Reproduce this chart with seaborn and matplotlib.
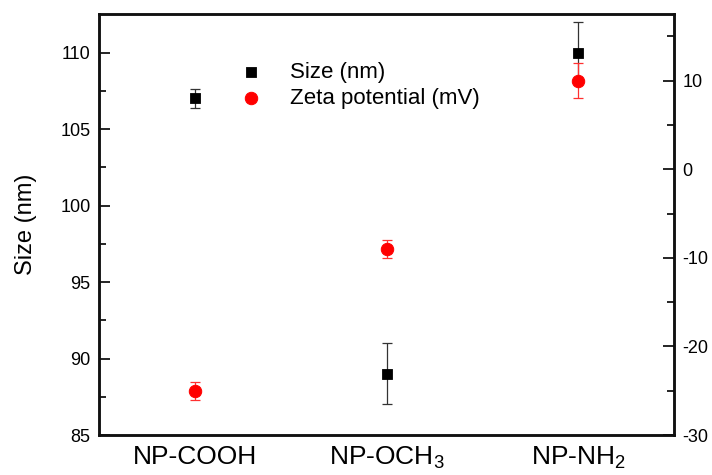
import numpy as np
import pandas as pd
import seaborn as sns
import matplotlib.pyplot as plt

categories = ["NP-COOH", "NP-OCH$_3$", "NP-NH$_2$"]
size_nm = [107.0, 89.0, 110.0]
size_err = [0.6, 2.0, 2.0]
zeta_mv = [-25.0, -9.0, 10.0]
zeta_err = [1.0, 1.0, 2.0]

sns.set_style("white")
plt.rcParams["font.family"] = ["Liberation Sans", "DejaVu Sans"]
plt.rcParams["mathtext.default"] = "regular"
plt.rcParams["axes.unicode_minus"] = False
plt.rcParams["text.color"] = "black"
plt.rcParams["axes.labelcolor"] = "black"
plt.rcParams["xtick.color"] = "black"
plt.rcParams["ytick.color"] = "black"

df = pd.DataFrame({"pos": np.arange(len(categories)), "size": size_nm,
                   "size_err": size_err, "zeta": zeta_mv, "zeta_err": zeta_err})

fig = plt.figure(figsize=(7.12, 4.75), dpi=100)
ax = fig.add_axes([0.139, 0.084, 0.808, 0.886])
ax2 = ax.twinx()

ax.errorbar(df["pos"], df["size"], yerr=df["size_err"], fmt="none",
            ecolor="#333333", elinewidth=0.9, capsize=3.5, capthick=0.9, zorder=2)
sns.scatterplot(data=df, x="pos", y="size", marker="s", color="black", s=55,
                edgecolor="black", ax=ax, zorder=3, label="Size (nm)", legend=False)

ax2.errorbar(df["pos"], df["zeta"], yerr=df["zeta_err"], fmt="none",
             ecolor="#ff3030", elinewidth=0.9, capsize=3.5, capthick=0.9, zorder=2)
sns.scatterplot(data=df, x="pos", y="zeta", marker="o", color="#ff0000", s=80,
                edgecolor="#ff0000", ax=ax2, zorder=3, label="Zeta potential (mV)", legend=False)

ax.set_xlim(-0.5, 2.5)
ax.set_ylim(85, 112.5)
ax2.set_ylim(-30, 17.5)

ax.set_xticks(df["pos"])
ax.set_xticklabels(categories, fontsize=19)
ax.tick_params(axis="x", length=0, pad=7)
ax.set_xlabel("")
ax.set_ylabel("Size (nm)", fontsize=17, labelpad=17)
ax2.set_ylabel("")

ax.set_yticks([85, 90, 95, 100, 105, 110])
ax.set_yticks(np.arange(87.5, 112.5, 5), minor=True)
ax.tick_params(axis="y", which="major", direction="in", length=8, width=1.2, labelsize=13, pad=6)
ax.tick_params(axis="y", which="minor", direction="in", length=5, width=1.2, left=True)

ax2.set_yticks([-30, -20, -10, 0, 10])
ax2.set_yticks([-25, -15, -5, 5, 15], minor=True)
ax2.tick_params(axis="y", which="major", direction="in", length=8, width=1.2, labelsize=13, pad=6)
ax2.tick_params(axis="y", which="minor", direction="in", length=5, width=1.2, right=True)

for a in (ax, ax2):
    for sp in a.spines.values():
        sp.set_linewidth(1.8)
        sp.set_color("#111111")

h1, l1 = ax.get_legend_handles_labels()
h2, l2 = ax2.get_legend_handles_labels()
leg = ax2.legend(h1 + h2, l1 + l2, loc="upper left", bbox_to_anchor=(0.2, 0.935),
                 frameon=False, fontsize=16, handletextpad=1.0, labelspacing=0.25,
                 handlelength=1.5)

fig.savefig("out.png", dpi=100)
